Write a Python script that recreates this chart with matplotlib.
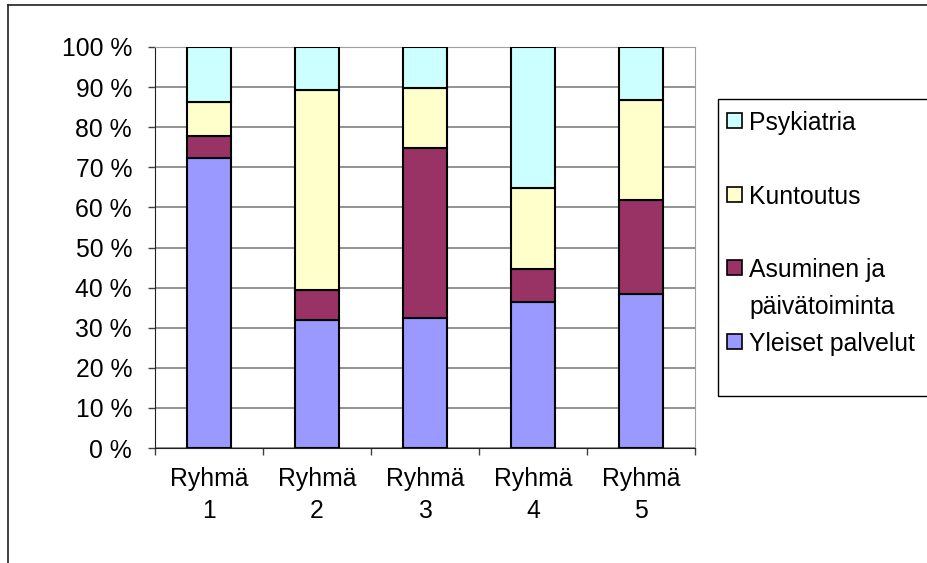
import matplotlib.pyplot as plt
from matplotlib.patches import Rectangle
from matplotlib.lines import Line2D
import numpy as np

plt.rcParams['font.family'] = ['Liberation Sans', 'DejaVu Sans']

# data (percent shares per group)
groups = ['Ryhmä\n1', 'Ryhmä\n2', 'Ryhmä\n3', 'Ryhmä\n4', 'Ryhmä\n5']
yleiset = [72.4, 31.8, 32.3, 36.3, 38.3]
asuminen = [5.4, 7.5, 42.6, 8.4, 23.5]
kuntoutus = [8.6, 50.0, 14.9, 20.2, 25.0]
psykiatria = [13.6, 10.7, 10.2, 35.1, 13.2]

series = [
    ('Yleiset palvelut', yleiset, '#9999ff'),
    ('Asuminen ja\npäivätoiminta', asuminen, '#993366'),
    ('Kuntoutus', kuntoutus, '#ffffcc'),
    ('Psykiatria', psykiatria, '#ccffff'),
]

FS = 17.8
W, H = 927, 563
fig = plt.figure(figsize=(W / 100, H / 100), dpi=100)
ax = fig.add_axes([155 / W, 1 - 448 / H, 540 / W, 401 / H])

x = np.arange(len(groups))
bottom = np.zeros(len(groups))
for name, vals, col in series:
    ax.bar(x, vals, width=0.41, bottom=bottom, color=col,
           edgecolor='black', linewidth=1.5, zorder=3)
    bottom += np.array(vals)

ax.set_xlim(-0.5, len(groups) - 0.5)
ax.set_ylim(0, 100)
ax.set_yticks(range(0, 101, 10))
ax.set_yticklabels([f'{v} %' for v in range(0, 101, 10)], fontsize=FS)
ax.yaxis.grid(True, color='#808080', linewidth=1.2, zorder=0)
ax.tick_params(axis='y', direction='out', length=5, width=1, color='#404040', pad=11.5)

# category boundary ticks, labels centered
ax.set_xticks(np.arange(-0.5, len(groups), 1.0))
ax.set_xticklabels([])
ax.set_xticks(x, minor=True)
ax.set_xticklabels(groups, minor=True, fontsize=FS, linespacing=1.4)
ax.tick_params(axis='x', which='major', direction='out', length=5, width=1, color='#404040')
ax.tick_params(axis='x', which='minor', length=0, pad=14)

for s in ['top', 'right']:
    ax.spines[s].set_color('#a0a0a0')
for s in ['left', 'bottom']:
    ax.spines[s].set_color('#202020')

# legend (drawn by hand to match the spreadsheet layout)
fig.add_artist(Rectangle((718 / W, 1 - 396 / H), 220 / W, 297 / H,
                         transform=fig.transFigure, fill=False,
                         edgecolor='black', linewidth=1))
y0 = 130  # baseline of first entry, px from top
for i, (name, vals, col) in enumerate(series[::-1]):
    base = y0 + i * 73.5
    fig.add_artist(Rectangle((727 / W, 1 - (base - 2) / H), 15 / W, 15 / H,
                             transform=fig.transFigure, facecolor=col,
                             edgecolor='black', linewidth=1.2))
    for j, line in enumerate(name.split('\n')):
        fig.text(749 / W, 1 - (base + j * 37) / H, line, fontsize=FS,
                 va='baseline', ha='left')

# outer frame
fig.add_artist(Line2D([8 / W, 8 / W], [0, 1 - 5 / H], transform=fig.transFigure,
                      color='#202020', linewidth=1.2))
fig.add_artist(Line2D([8 / W, 1], [1 - 5 / H, 1 - 5 / H], transform=fig.transFigure,
                      color='#202020', linewidth=1.2))

fig.savefig('out.png', dpi=100)
